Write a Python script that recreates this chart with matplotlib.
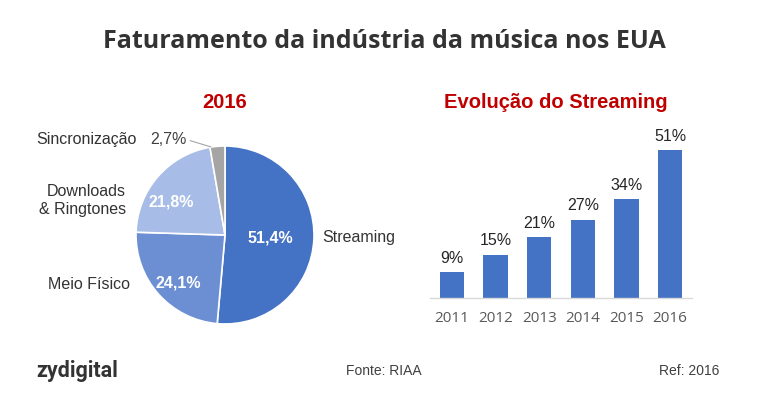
import matplotlib
matplotlib.use("Agg")
import matplotlib.pyplot as plt

# pie data (2016)
pie_labels = ["Streaming", "Meio Físico", "Downloads\n& Ringtones", "Sincronização"]
pie_values = [51.4, 24.1, 21.8, 2.7]
pie_colors = ["#4472C4", "#6B8FD2", "#A7BCE6", "#A5A5A5"]

# bar data (streaming share)
years = ["2011", "2012", "2013", "2014", "2015", "2016"]
share = [9, 15, 21, 27, 34, 51]

RED = "#C00000"
SANS = ["Liberation Sans", "DejaVu Sans"]

fig = plt.figure(figsize=(7.68, 4.0), dpi=100)
fig.patch.set_facecolor("white")

fig.text(0.5, 1 - 42 / 400, "Faturamento da indústria da música nos EUA", ha="center", va="center",
         fontsize=18, fontweight="bold", color="#333333", family=["Open Sans", "DejaVu Sans"])

# ---- pie ----
r_px = 89
cx, cy = 225, 235
ax1 = fig.add_axes([(cx - r_px) / 768, (400 - cy - r_px) / 400, 2 * r_px / 768, 2 * r_px / 400])
wedges, texts, autotexts = ax1.pie(
    pie_values, labels=pie_labels, colors=pie_colors, startangle=90, counterclock=False,
    wedgeprops=dict(edgecolor="white", linewidth=1.2),
    autopct=lambda p: ("%.1f%%" % p).replace(".", ","), pctdistance=0.6,
    textprops=dict(family=SANS))
ax1.set_xlim(-1, 1)
ax1.set_ylim(-1, 1)
ax1.set_aspect("equal")

pct_pos = [(0.51, -0.03), (-0.53, -0.54), (-0.60, 0.37), (-0.63, 1.07)]
for t, pos, v in zip(autotexts, pct_pos, pie_values):
    t.set_position(pos)
    t.set_clip_on(False)
    t.set_fontsize(11.5)
    t.set_text(("%.1f%%" % v).replace(".", ","))
    if v > 5:
        t.set_color("white")
        t.set_fontweight("bold")
    else:
        t.set_color("#404040")

lab_pos = [(1.09, -0.03, "left"), (-1.07, -0.56, "right"), (-1.11, 0.39, "right"), (-0.99, 1.07, "right")]
for t, (x, y, ha) in zip(texts, lab_pos):
    t.set_position((x, y))
    t.set_ha(ha)
    t.set_va("center")
    t.set_multialignment("right" if ha == "right" else "left")
    t.set_fontsize(11.5)
    t.set_color("#333333")
    t.set_clip_on(False)
    t.set_linespacing(1.25)

ax1.plot([-0.39, -0.16], [1.06, 0.99], color="#A5A5A5", lw=0.8, clip_on=False)
ax1.text(0, 1.49, "2016", ha="center", va="center", fontsize=14.5, fontweight="bold",
         color=RED, family=SANS, clip_on=False)

# ---- bars ----
ax2 = fig.add_axes([430 / 768, 1 - 298 / 400, 262 / 768, 174 / 400])
x = range(len(years))
bars = ax2.bar(x, share, width=0.55, color="#4472C4")
ax2.set_xlim(-0.5, 5.5)
ax2.set_ylim(0, 60)
for b, v in zip(bars, share):
    ax2.text(b.get_x() + b.get_width() / 2, v + 2.2, "%d%%" % v, ha="center", va="bottom",
             fontsize=11.5, color="#262626", family=SANS)
ax2.set_xticks(list(x))
ax2.set_xticklabels(years, fontsize=11, color="#595959", family=["Open Sans", "DejaVu Sans"])
ax2.tick_params(axis="x", length=0, pad=9)
ax2.set_yticks([])
for s in ["top", "right", "left"]:
    ax2.spines[s].set_visible(False)
ax2.spines["bottom"].set_color("#D9D9D9")
ax2.spines["bottom"].set_linewidth(1)
fig.text(556 / 768, 1 - 103 / 400, "Evolução do Streaming", ha="center", va="center",
         fontsize=14.5, fontweight="bold", color=RED, family=SANS)

# ---- footer ----
fig.text(36 / 768, 1 - 371 / 400, "zydigital", ha="left", va="center", fontsize=15.5,
         fontweight="bold", color="#333333", family=["Roboto", "DejaVu Sans"])
fig.text(384 / 768, 1 - 371 / 400, "Fonte: RIAA", ha="center", va="center", fontsize=10,
         color="#404040", family=SANS)
fig.text(719 / 768, 1 - 371 / 400, "Ref: 2016", ha="right", va="center", fontsize=10,
         color="#404040", family=SANS)

fig.savefig("out.png", dpi=100, facecolor="white")
